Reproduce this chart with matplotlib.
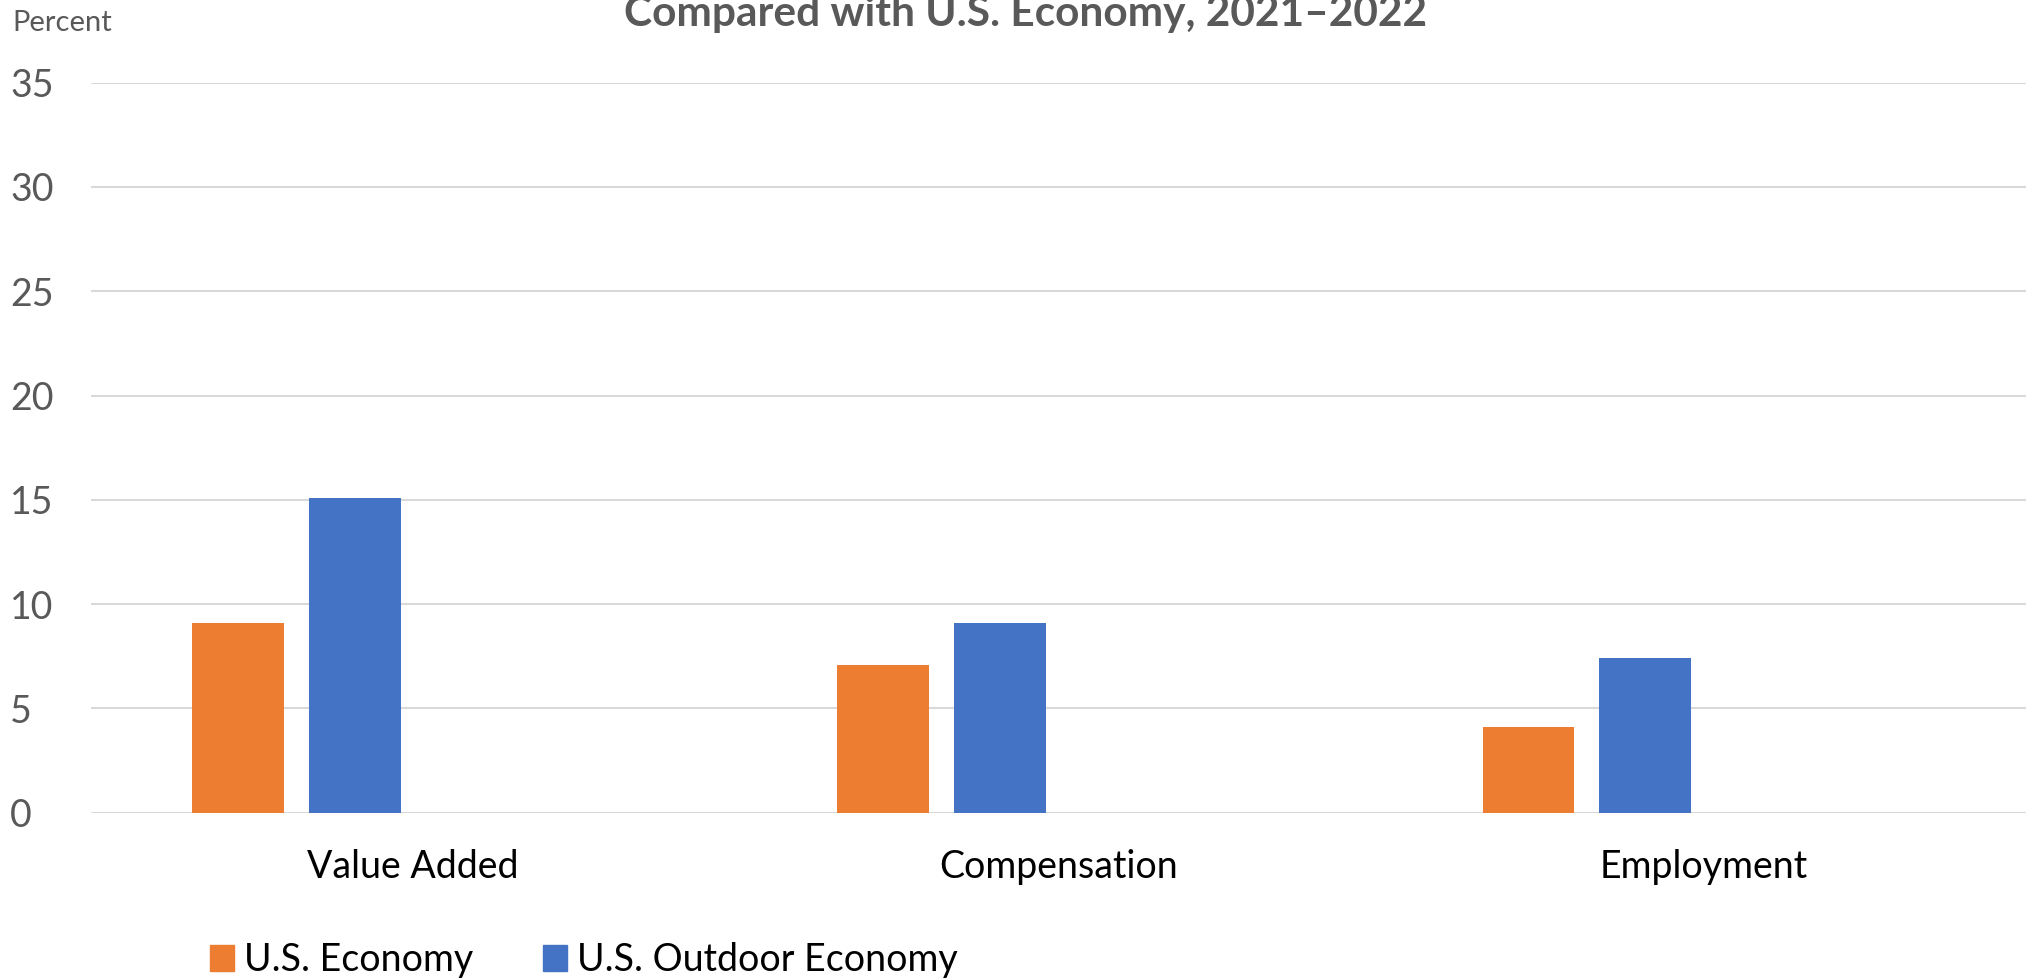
import numpy as np
import matplotlib.pyplot as plt
from matplotlib.patches import Patch

plt.rcParams['font.family'] = ['Lato', 'DejaVu Sans']

# data
categories = ['Value Added', 'Compensation', 'Employment']
us_economy = [9.1, 7.1, 4.1]
outdoor_economy = [15.1, 9.1, 7.4]
series_names = ['U.S. Economy', 'U.S. Outdoor Economy']
y_ticks = [0, 5, 10, 15, 20, 25, 30, 35]

orange = '#ED7D31'
blue = '#4472C4'
grey = '#595959'

fig = plt.figure(figsize=(20.34, 9.8), dpi=100)
ax = fig.add_axes([0.0446, 0.1707, 0.9514, 0.7449])

x = np.arange(len(categories))
slot = 0.1807
width = 0.1426
ax.bar(x - 1.5 * slot, us_economy, width, color=orange, zorder=3)
ax.bar(x - 0.5 * slot, outdoor_economy, width, color=blue, zorder=3)

ax.set_xlim(-0.5, len(categories) - 0.5)
ax.set_ylim(0, 35)
ax.set_yticks(y_ticks)
ax.set_xticks(x)
ax.set_xticklabels(categories, fontsize=27, color='black')
ax.set_yticklabels([str(t) for t in y_ticks], fontsize=27, color=grey,
                   ha='left')
ax.tick_params(axis='y', length=0, pad=58)
ax.tick_params(axis='x', length=0, pad=26)
ax.yaxis.grid(True, color='#D9D9D9', linewidth=1.5, zorder=0)
for s in ax.spines.values():
    s.set_visible(False)

# the first title line sits above the visible area, as in the reference
fig.text(0.504, 1 - 26 / 980, 'Compared with U.S. Economy, 2021\u20132022',
         ha='center', va='baseline', fontsize=30.5, fontweight='bold',
         color=grey)
fig.text(0.006, 1 - 23 / 980, 'Percent', ha='left', va='center',
         fontsize=21, color=grey)

handles = [Patch(color=orange), Patch(color=blue)]
fig.legend(handles, series_names, loc='center left',
           bbox_to_anchor=(0.094, 1 - 960 / 980), ncol=2, frameon=False,
           fontsize=27, handlelength=0.65, handleheight=0.7,
           handletextpad=0.25, columnspacing=1.87, borderpad=0)

fig.savefig('out.png', dpi=100)
